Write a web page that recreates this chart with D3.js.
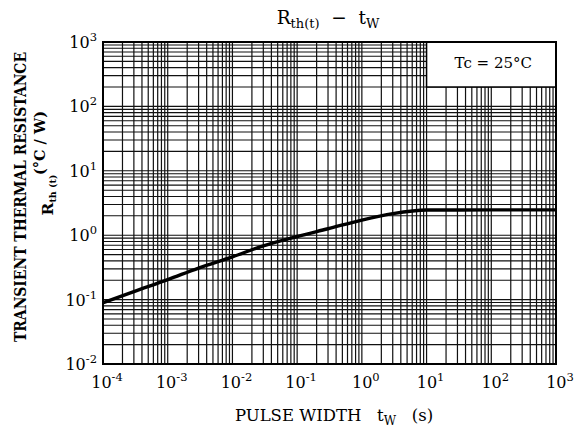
<!DOCTYPE html>
<html>
<head>
<meta charset="utf-8">
<script src="https://cdn.jsdelivr.net/npm/d3@7"></script>
<style>
  body { margin: 0; background: #fff; }
  svg { display: block; }
  text { font-family: "DejaVu Serif", "Liberation Serif", serif; fill: #000; white-space: pre; }
</style>
</head>
<body>
<svg id="chart" width="579" height="430"></svg>
<script>
// pulse width (s) and transient thermal resistance (degC/W)
const pulseWidth = [1e-4, 3e-4, 1e-3, 3e-3, 1e-2, 3e-2, 1e-1, 3e-1, 1, 3, 10, 100, 1000];
const rth = [0.089, 0.133, 0.204, 0.309, 0.462, 0.684, 0.955, 1.26, 1.72, 2.16, 2.46, 2.47, 2.47];

// decade tick exponents
const xExps = [-4, -3, -2, -1, 0, 1, 2, 3];
const yExps = [-2, -1, 0, 1, 2, 3];

const svg = d3.select("#chart");
const m = { left: 103, right: 556, top: 42, bottom: 364 };

const x = d3.scaleLog().domain([1e-4, 1e3]).range([m.left, m.right]);
const y = d3.scaleLog().domain([1e-2, 1e3]).range([m.bottom, m.top]);

// minor + major grid: 1..9 in every decade
const xGrid = [];
xExps.slice(0, -1).forEach(e => { for (let k = 1; k < 10; k++) xGrid.push(k * Math.pow(10, e)); });
const yGrid = [];
yExps.slice(0, -1).forEach(e => { for (let k = 1; k < 10; k++) yGrid.push(k * Math.pow(10, e)); });

const grid = svg.append("g");
grid.selectAll(".vx").data(xGrid).join("line")
  .attr("x1", d => x(d)).attr("x2", d => x(d))
  .attr("y1", m.top).attr("y2", m.bottom)
  .attr("stroke", "#111").attr("stroke-width", 1.2);
grid.selectAll(".hy").data(yGrid).join("line")
  .attr("y1", d => y(d)).attr("y2", d => y(d))
  .attr("x1", m.left).attr("x2", m.right)
  .attr("stroke", "#111").attr("stroke-width", 1.1);

// legend box covers the grid in the top right
svg.append("rect")
  .attr("x", x(10)).attr("y", y(1000))
  .attr("width", x(1000) - x(10)).attr("height", y(200) - y(1000))
  .attr("fill", "#fff").attr("stroke", "#000").attr("stroke-width", 1.5);
svg.append("text")
  .attr("x", (x(10) + x(1000)) / 2 + 2).attr("y", 68)
  .attr("text-anchor", "middle").attr("font-size", 15)
  .text("Tc = 25°C");

// frame
svg.append("rect")
  .attr("x", m.left).attr("y", m.top)
  .attr("width", m.right - m.left).attr("height", m.bottom - m.top)
  .attr("fill", "none").attr("stroke", "#000").attr("stroke-width", 2);

// curve
const line = d3.line()
  .x((d, i) => x(pulseWidth[i]))
  .y(d => y(d))
  .curve(d3.curveMonotoneX);
svg.append("path")
  .datum(rth)
  .attr("d", line)
  .attr("fill", "none").attr("stroke", "#000").attr("stroke-width", 3.4)
  .attr("stroke-linejoin", "round");

// tick labels as 10^n
function pow10(sel) {
  sel.append("tspan").text("10");
  sel.append("tspan").attr("dy", -7).attr("font-size", 11.5).text(d => d);
}
svg.selectAll(".xl").data(xExps).join("text")
  .attr("x", d => x(Math.pow(10, d)) + 4).attr("y", 388)
  .attr("text-anchor", "middle").attr("font-size", 16)
  .call(pow10);
svg.selectAll(".yl").data(yExps).join("text")
  .attr("x", 97).attr("y", d => y(Math.pow(10, d)) + 6)
  .attr("text-anchor", "end").attr("font-size", 16)
  .call(pow10);

// title
const title = svg.append("text").attr("x", 328).attr("y", 24)
  .attr("text-anchor", "middle").attr("font-size", 18.5);
title.append("tspan").text("R");
title.append("tspan").attr("font-size", 13).attr("dy", 4).text("th(t)");
title.append("tspan").attr("dy", -4).text("  \u2212  t");
title.append("tspan").attr("font-size", 13).attr("dy", 4).text("W");

// x axis title
const xt = svg.append("text").attr("x", 334).attr("y", 421)
  .attr("text-anchor", "middle").attr("font-size", 16.5);
xt.append("tspan").text("PULSE WIDTH   t");
xt.append("tspan").attr("font-size", 12).attr("dy", 4).text("W");
xt.append("tspan").attr("dy", -4).text("   (s)");

// y axis title, three rotated lines
const yt = svg.append("g").attr("font-weight", "bold");
yt.append("text")
  .attr("transform", "translate(26,197) rotate(-90)")
  .attr("text-anchor", "middle")
  .attr("font-family", "Liberation Serif").attr("font-size", 16)
  .attr("textLength", 290).attr("lengthAdjust", "spacingAndGlyphs")
  .text("TRANSIENT THERMAL RESISTANCE");
yt.append("text")
  .attr("transform", "translate(45,143) rotate(-90)")
  .attr("text-anchor", "middle")
  .attr("font-family", "Liberation Serif").attr("font-size", 14.5)
  .text("(°C / W)");
const r2 = yt.append("text")
  .attr("transform", "translate(53,195) rotate(-90)")
  .attr("text-anchor", "middle")
  .attr("font-family", "Liberation Serif").attr("font-size", 15.5);
r2.append("tspan").text("R");
r2.append("tspan").attr("font-size", 9.5).attr("dy", 3).text("th (t)");
</script>
</body>
</html>
